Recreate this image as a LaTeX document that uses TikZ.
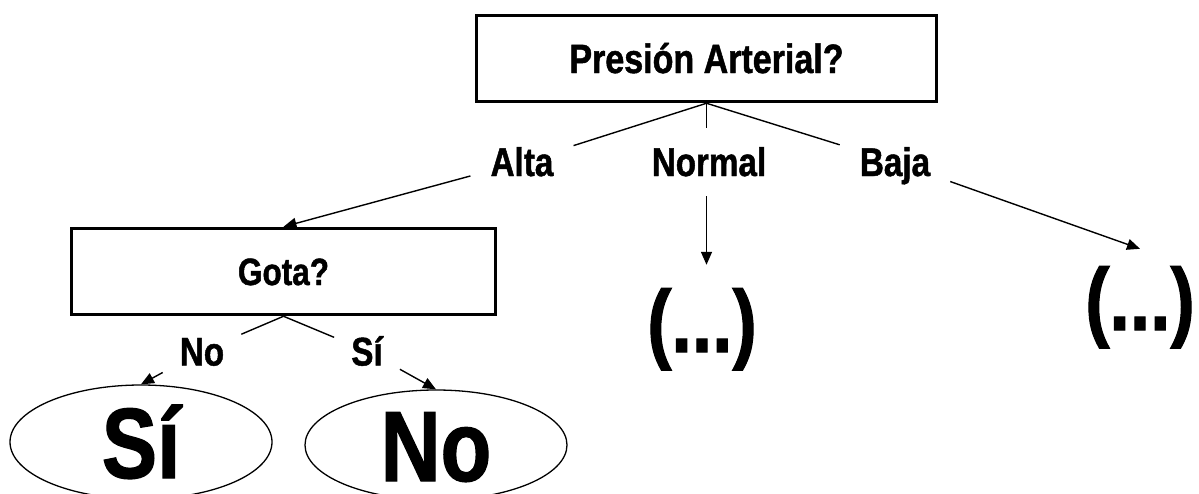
\documentclass[tikz,border=0pt]{standalone}
\usepackage{fontspec}
\setmainfont{Liberation Sans}[FakeStretch=0.83, BoldFeatures={FakeBold=1.2}]
\usetikzlibrary{arrows.meta,shapes.geometric}
\begin{document}
\begin{tikzpicture}[x=1pt,y=-1pt,
  qbox/.style={draw, line width=3.5pt, inner sep=0pt, text depth=0pt,
    font=\fontsize{41}{48}\selectfont\bfseries},
  lbl/.style={inner xsep=20pt, inner ysep=20pt, text height=28pt, text depth=0pt,
    font=\fontsize{40}{48}\selectfont\bfseries},
  slbl/.style={inner xsep=17pt, inner ysep=8pt, text height=29pt, text depth=0pt,
    font=\fontsize{40}{48}\selectfont\bfseries},
  dots/.style={anchor=base, inner xsep=0pt, text height=64pt, text depth=18pt,
    font=\fontsize{88}{100}\selectfont\bfseries},
  leaf/.style={draw, ellipse, line width=1.3pt, inner sep=0pt, minimum width=262pt,
    text height=72pt, text depth=0pt, font=\fontsize{100}{110}\selectfont\bfseries},
  edge/.style={line width=1.4pt},
  arr/.style={line width=1.4pt, -{Triangle[length=13pt,width=11pt]}}]
\useasboundingbox (0,0) rectangle (1199,493);

\node[qbox, minimum width=460pt, minimum height=86pt, text height=29pt] (top) at (706.5,58.5) {Presión Arterial?};
\node[lbl] (alta) at (522,162) {Alta};
\node[lbl] (normal) at (709,162) {Normal};
\node[lbl] (baja) at (895,162) {Baja};

\node[qbox, minimum width=424pt, minimum height=86pt, text height=27pt,
  font=\fontsize{38}{46}\selectfont\bfseries] (gota) at (283.5,271.5) {Gota?};

\node[dots, inner ysep=23pt] (dots1) at (702,352) {(...)};
\node[dots, inner ysep=17pt] (dots2) at (1140,330) {(...)};

\node[slbl] (no) at (202,351) {No};
\node[slbl] (si) at (367,351) {Sí};

\node[leaf, minimum height=114pt] (ell1) at (141,442) {Sí};
\node[leaf, minimum height=110pt] (ell2) at (436,445) {No};

\draw[edge] (top.south) -- (alta);
\draw[edge] (top.south) -- (top.south |- normal.north);
\draw[edge] (top.south) -- (baja);
\draw[arr] (alta) -- (gota.north);
\draw[arr] (top.south |- normal.south) -- (top.south |- dots1.north);
\draw[arr] (baja) -- (dots2.north);
\draw[edge] (gota.south) -- (no);
\draw[edge] (gota.south) -- (si);
\draw[arr] (no) -- (ell1.north);
\draw[arr] (si) -- (ell2.north);
\end{tikzpicture}
\end{document}
